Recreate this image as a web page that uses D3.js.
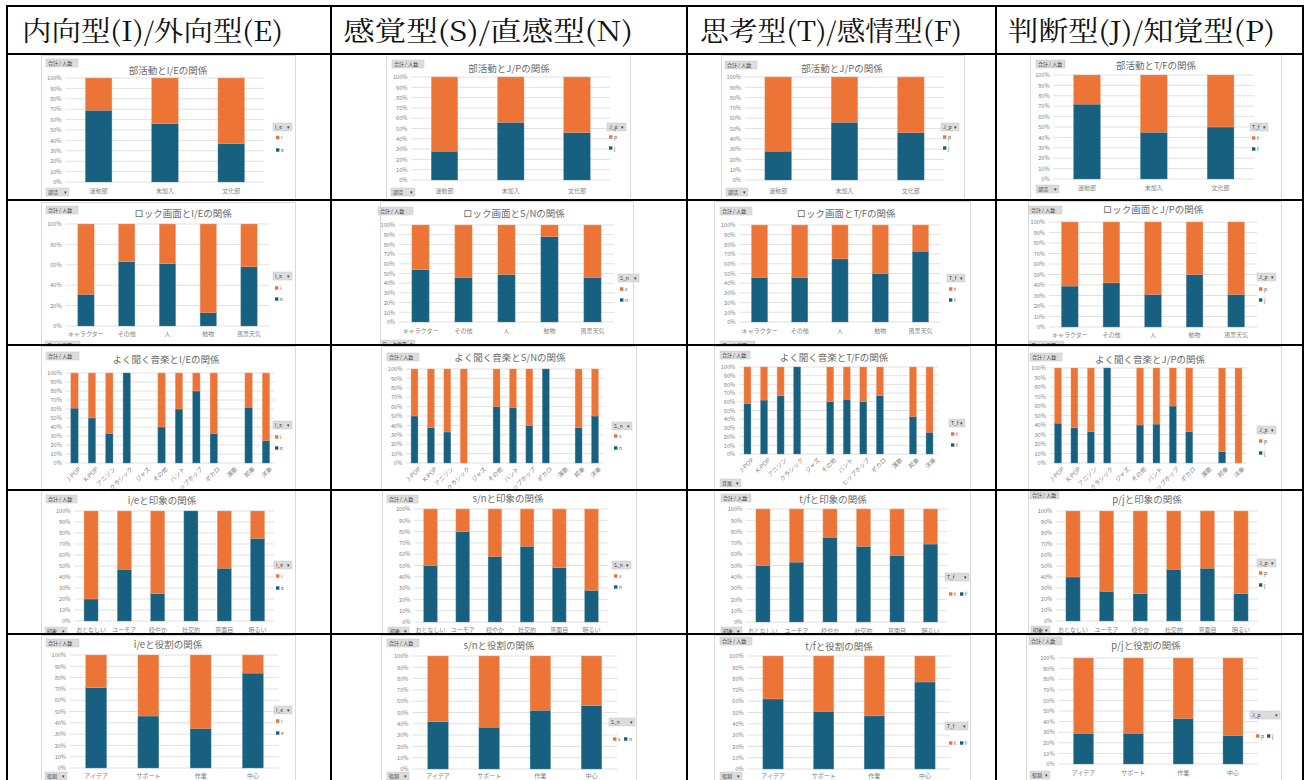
<!DOCTYPE html>
<html><head><meta charset="utf-8">
<script src="https://cdn.jsdelivr.net/npm/d3@7"></script>
<style>body{margin:0;background:#fff}svg{display:block}</style>
</head><body>
<script>
// ---------- DATA ----------
const headers = ["内向型(I)/外向型(E)", "感覚型(S)/直感型(N)", "思考型(T)/感情型(F)", "判断型(J)/知覚型(P)"];

const clubCats = ["運動部", "未加入", "文化部"];
const rockCats = ["キャラクター", "その他", "人", "動物", "風景天気"];
const musicCats = ["J-POP", "K-POP", "アニソン", "クラシック", "ジャズ", "その他", "バンド", "ヒップホップ", "ボカロ", "演歌", "邦楽", "洋楽"];
const impressionCats = ["おとなしい", "ユーモア", "穏やか", "社交的", "真面目", "明るい"];
const roleCats = ["アイデア", "サポート", "作業", "中心"];

const rowFields = ["部活", "ロック画面", "音楽", "印象", "役割"];

const titles = [
  ["部活動とI/Eの関係", "部活動とJ/Pの関係", "部活動とJ/Pの関係", "部活動とT/Fの関係"],
  ["ロック画面とI/Eの関係", "ロック画面とS/Nの関係", "ロック画面とT/Fの関係", "ロック画面とJ/Pの関係"],
  ["よく聞く音楽とI/Eの関係", "よく聞く音楽とS/Nの関係", "よく聞く音楽とT/Fの関係", "よく聞く音楽とJ/Pの関係"],
  ["i/eと印象の関係", "s/nと印象の関係", "t/fと印象の関係", "p/jと印象の関係"],
  ["i/eと役割の関係", "s/nと役割の関係", "t/fと役割の関係", "p/jと役割の関係"]
];

// legend: [field button, top (orange) series, bottom (blue) series]
const legendIE = ["I_e", "i", "e"];
const legendSN = ["S_n", "s", "n"];
const legendTF = ["T_f", "t", "f"];
const legendJP = ["J_p", "p", "j"];

// blue (bottom) share in percent; orange = remainder; null = no data
const clubIE = [69, 56, 37];
const clubJP1 = [28, 56, 46];
const clubJP2 = [28, 56, 46];
const clubTF = [72, 45, 50];
const rockIE = [31, 63, 61, 13, 58];
const rockSN = [54, 46, 49, 88, 46];
const rockTF = [46, 46, 65, 50, 73];
const rockJP = [39, 42, 31, 50, 31];
const musicIE = [61, 50, 33, 100, null, 40, 60, 80, 33, null, 62, 25];
const musicSN = [50, 37.5, 33, 0, null, 60, 59, 40, 100, null, 37.5, 50];
const musicTF = [58, 62, 67, 100, null, 60, 63, 60, 67, null, 43, 25];
const musicJP = [42, 37, 33, 100, null, 40, 41, 60, 33, null, 12, 0];
const impIE = [20, 47, 25, 100, 48, 75];
const impSN = [50, 80, 58, 67, 48, 28];
const impTF = [50, 53, 75, 67, 59, 69];
const impJP = [40, 27, 25, 47, 48, 25];
const roleIE = [71, 46, 35, 84];
const roleSN = [42, 37, 52, 56];
const roleTF = [62, 51, 47, 77];
const roleJP = [29, 29, 43, 27];

const rowCats = [clubCats, rockCats, musicCats, impressionCats, roleCats];
const series = [
  [clubIE, clubJP1, clubJP2, clubTF],
  [rockIE, rockSN, rockTF, rockJP],
  [musicIE, musicSN, musicTF, musicJP],
  [impIE, impSN, impTF, impJP],
  [roleIE, roleSN, roleTF, roleJP]
];
const legends = [
  [legendIE, legendJP, legendJP, legendTF],
  [legendIE, legendSN, legendTF, legendJP],
  [legendIE, legendSN, legendTF, legendJP],
  [legendIE, legendSN, legendTF, legendJP],
  [legendIE, legendSN, legendTF, legendJP]
];
const tickSteps = [[10,10,10,10],[20,10,10,10],[10,10,10,10],[10,10,10,10],[10,10,10,10]];

// ---------- LAYOUT ----------
const colX = [7, 331, 687, 996, 1303];
const rowY = [6, 54, 200, 345, 490, 634, 784];
const ORANGE = "#eb7436", BLUE = "#17607f";

const L = [
 [
  {box:[41,295,55], plot:[65.5,264.4,78,182], pad:0.6, title:[168,71], sum:[46,32,63], lg:{btn:[273,19,127], it:[276,137.5,150]}, bottom:[46,23,192], catY:192},
  {box:[386,630,54], plot:[411.4,610.1,77,180], pad:0.6, title:[509,69], sum:[392,32,64], lg:{btn:[607,19,127], it:[609,137,148]}, bottom:[391,24,192], catY:192},
  {box:[721,964,55], plot:[745,944,77,180], pad:0.6, title:[842,69], sum:[725,32,65], lg:{btn:[941,18,127], it:[943,137,148]}, bottom:[726,22,192], catY:192},
  {box:[1030,1281,54], plot:[1053.6,1254,75,179], pad:0.6, title:[1156,66], sum:[1036,29,64], lg:{btn:[1250,18,127], it:[1252,138,149]}, bottom:[1036,23,189], catY:189}
 ],
 [
  {box:[41,295,202], plot:[65.6,269.4,224,326], pad:0.6, title:[183,214], sum:[46,32,210], lg:{btn:[273,19,276], it:[275,288,299]}, bottom:[45,35,345], catY:335},
  {box:[380,633,201], plot:[399,614,225,322], pad:0.6, title:[514,214], sum:[378,35,211], lg:{btn:[618,21,278], it:[620,289,300]}, bottom:[380,35,344], catY:332},
  {box:[714,970,201], plot:[739.4,940.6,225,322], pad:0.6, title:[846,214], sum:[720,32,211], lg:{btn:[947,18,278], it:[949,289,300]}, bottom:[720,35,345], catY:332},
  {box:[1028,1281,201], plot:[1049,1257,222,327], pad:0.6, title:[1153,210], sum:[1029,33,210], lg:{btn:[1257,19,277], it:[1259,289,300]}, bottom:[1029,35,345], catY:336}
 ],
 [
  {box:[41,295,346], plot:[65.8,274.7,373,463], pad:0.58, title:[166,360], sum:[46,33,356], lg:{btn:[273,19,425], it:[275,437,448]}, bottom:null, catY:null},
  {box:[381,636,346], plot:[406.3,603.2,369,463], pad:0.58, title:[510,358], sum:[387,32,357], lg:{btn:[612,20,426], it:[614,436,448]}, bottom:null, catY:null},
  {box:[714,970,346], plot:[739.2,937.8,367,454], pad:0.58, title:[834,358], sum:[720,30,355], lg:{btn:[949,16,423], it:[951,434,445]}, bottom:[720,21,483], catY:null},
  {box:[1028,1281,346], plot:[1049.8,1246.7,368,463], pad:0.58, title:[1150,360], sum:[1030,32,357], lg:{btn:[1257,19,430], it:[1259,441,453]}, bottom:null, catY:null}
 ],
 [
  {box:[41,295,490], plot:[74.4,274.2,511,621], pad:0.58, title:[162,501], sum:[46,31,499], lg:{btn:[274,18,565], it:[276,576,588]}, bottom:[45,22,631], catY:631},
  {box:[382,636,490], plot:[414.4,607.6,509,622], pad:0.58, title:[508,499], sum:[387,31,499], lg:{btn:[612,19,565], it:[614,576,587]}, bottom:[388,21,631], catY:631},
  {box:[714,970,490], plot:[746.2,947.3,509,622], pad:0.58, title:[833,500], sum:[721,30,498], lg:{btn:[945,24,577], hz:[949,960,594]}, bottom:[721,21,631], catY:632},
  {box:[1028,1281,490], plot:[1056.2,1257.8,511,621], pad:0.58, title:[1147,500], sum:[1030,29,495], lg:{btn:[1257,19,563], it:[1259,573,585]}, bottom:[1031,19,630], catY:631}
 ],
 [
  {box:[41,295,635], plot:[70,279,655,768], pad:0.6, title:[168,645], sum:[46,33,643], lg:{btn:[274,18,710], it:[276,721,733]}, bottom:[45,22,776], catY:777},
  {box:[381,636,635], plot:[412.4,617.1,656,769], pad:0.6, title:[499,646], sum:[387,32,643], lg:{btn:[609,26,722], hz:[613,624,739]}, bottom:[387,22,776], catY:777},
  {box:[714,970,635], plot:[747.7,950.3,656,769], pad:0.6, title:[839,647], sum:[720,32,641], lg:{btn:[945,23,726], hz:[949,960,743]}, bottom:[720,22,776], catY:777},
  {box:[1026,1281,635], plot:[1058.6,1257.9,658,764], pad:0.6, title:[1146,646], sum:[1029,33,641], lg:{btn:[1250,30,715], hz:[1256,1267,736]}, bottom:[1030,20,775], catY:774}
 ]
];

const FONT = "'Noto Sans CJK JP', 'Noto Sans', sans-serif";

const svg = d3.select("body").append("svg").attr("width", 1309).attr("height", 780)
  .style("font-family", FONT);
svg.append("rect").attr("width", 1309).attr("height", 780).attr("fill", "#fff");
const defs = svg.append("defs");

function button(g, x, w, yc, label, arrow) {
  const h = 8;
  g.append("rect").attr("x", x).attr("y", yc - h/2).attr("width", w).attr("height", h)
    .attr("fill", "#dcdcdc").attr("stroke", "#c8c8c8").attr("stroke-width", 0.5);
  g.append("text").attr("x", x + 2).attr("y", yc + 1.8).attr("font-size", 5).attr("fill", "#404040").text(label);
  if (arrow) g.append("text").attr("x", x + w - 2).attr("y", yc + 1.8).attr("text-anchor", "end")
    .attr("font-size", 4.5).attr("fill", "#404040").text("▾");
}

for (let r = 0; r < 5; r++) {
  for (let c = 0; c < 4; c++) {
    const lay = L[r][c];
    const cats = rowCats[r];
    const vals = series[r][c];
    const lg = legends[r][c];
    const id = "clip" + r + "_" + c;
    defs.append("clipPath").attr("id", id).append("rect")
      .attr("x", colX[c] + 1).attr("y", rowY[r+1] + 1)
      .attr("width", colX[c+1] - colX[c] - 2).attr("height", rowY[r+2] - rowY[r+1] - 2);
    const g = svg.append("g").attr("clip-path", `url(#${id})`);

    const [bx0, bx1, by0] = lay.box;
    g.append("rect").attr("x", bx0 + 0.5).attr("y", by0 + 0.5).attr("width", bx1 - bx0).attr("height", 200)
      .attr("fill", "#fff").attr("stroke", "#d9d9d9").attr("stroke-width", 1);

    const [x0, x1, yT, yB] = lay.plot;
    const x = d3.scaleBand().domain(cats).range([x0, x1]).paddingInner(lay.pad).paddingOuter(lay.pad / 2);
    const y = d3.scaleLinear().domain([0, 100]).range([yB, yT]);
    const ticks = d3.range(0, 101, tickSteps[r][c]);

    g.append("g").selectAll("line").data(ticks).join("line")
      .attr("x1", x0).attr("x2", x1).attr("y1", d => y(d)).attr("y2", d => y(d))
      .attr("stroke", "#d9d9d9").attr("stroke-width", 0.8);

    const ya = g.append("g").attr("transform", `translate(${x0},0)`)
      .call(d3.axisLeft(y).tickValues(ticks).tickFormat(d => d + "%").tickSize(0).tickPadding(4));
    ya.select(".domain").remove();
    ya.selectAll("text").attr("font-size", 5.6).attr("fill", "#7f7f7f").attr("font-family", FONT);

    const data = cats.map((k, i) => ({k, v: vals[i]})).filter(d => d.v !== null);
    g.append("g").selectAll("rect").data(data).join("rect")
      .attr("x", d => x(d.k)).attr("width", x.bandwidth())
      .attr("y", d => y(d.v)).attr("height", d => y(0) - y(d.v))
      .attr("fill", BLUE).attr("stroke", "#5a8fa8").attr("stroke-width", 0.4);
    g.append("g").selectAll("rect").data(data.filter(d => d.v < 100)).join("rect")
      .attr("x", d => x(d.k)).attr("width", x.bandwidth())
      .attr("y", y(100)).attr("height", d => y(d.v) - y(100))
      .attr("fill", ORANGE).attr("stroke", "#f3a47c").attr("stroke-width", 0.4);

    if (lay.catY !== null) {
      const xa = g.append("g").attr("transform", `translate(0,${yB})`)
        .call(d3.axisBottom(x).tickSize(0).tickPadding(lay.catY - yB - 3));
      xa.select(".domain").remove();
      xa.selectAll("text").attr("font-size", 6).attr("fill", "#7f7f7f").attr("font-family", FONT);
    } else {
      const xa = g.append("g").attr("transform", `translate(0,${yB})`)
        .call(d3.axisBottom(x).tickSize(0).tickPadding(3));
      xa.select(".domain").remove();
      xa.selectAll("text").attr("font-size", 6).attr("fill", "#7f7f7f").attr("font-family", FONT)
        .attr("text-anchor", "end").attr("dy", "0.35em")
        .attr("transform", "translate(3,3) rotate(-45)");
    }

    g.append("text").attr("x", lay.title[0]).attr("y", lay.title[1]).attr("dy", "0.35em")
      .attr("text-anchor", "middle").attr("font-size", 9.5).attr("fill", "#6a6a6a").text(titles[r][c]);

    button(g, lay.sum[0], lay.sum[1], lay.sum[2], "合計 / 人数", false);
    if (lay.bottom) button(g, lay.bottom[0], lay.bottom[1], lay.bottom[2], rowFields[r], true);
    button(g, lay.lg.btn[0], lay.lg.btn[1], lay.lg.btn[2], lg[0], true);

    const items = [{c: ORANGE, t: lg[1]}, {c: BLUE, t: lg[2]}];
    items.forEach((it, i) => {
      let ix, iy;
      if (lay.lg.hz) { ix = lay.lg.hz[i]; iy = lay.lg.hz[2]; }
      else { ix = lay.lg.it[0]; iy = lay.lg.it[1 + i]; }
      g.append("rect").attr("x", ix).attr("y", iy - 1.7).attr("width", 3.4).attr("height", 3.4).attr("fill", it.c);
      g.append("text").attr("x", ix + 5).attr("y", iy + 1.7).attr("font-size", 5).attr("fill", "#595959").text(it.t);
    });
  }
}

const headerX = [22, 343, 700, 1008];
const headerW = [261, 290, 262, 267];
svg.append("g").selectAll("text").data(headers).join("text")
  .attr("x", (d, i) => headerX[i]).attr("y", 41)
  .attr("font-size", 27).attr("fill", "#111")
  .attr("font-family", "'Noto Serif CJK JP', 'Noto Sans CJK JP', serif")
  .attr("textLength", (d, i) => headerW[i]).attr("lengthAdjust", "spacingAndGlyphs")
  .text(d => d);

const grid = svg.append("g").attr("stroke", "#000").attr("stroke-width", 2);
rowY.slice(0, 6).forEach(yy => grid.append("line").attr("x1", colX[0] - 1).attr("x2", colX[4] + 1).attr("y1", yy).attr("y2", yy));
colX.forEach(xx => grid.append("line").attr("x1", xx).attr("x2", xx).attr("y1", rowY[0] - 1).attr("y2", 780));
</script>
</body></html>
